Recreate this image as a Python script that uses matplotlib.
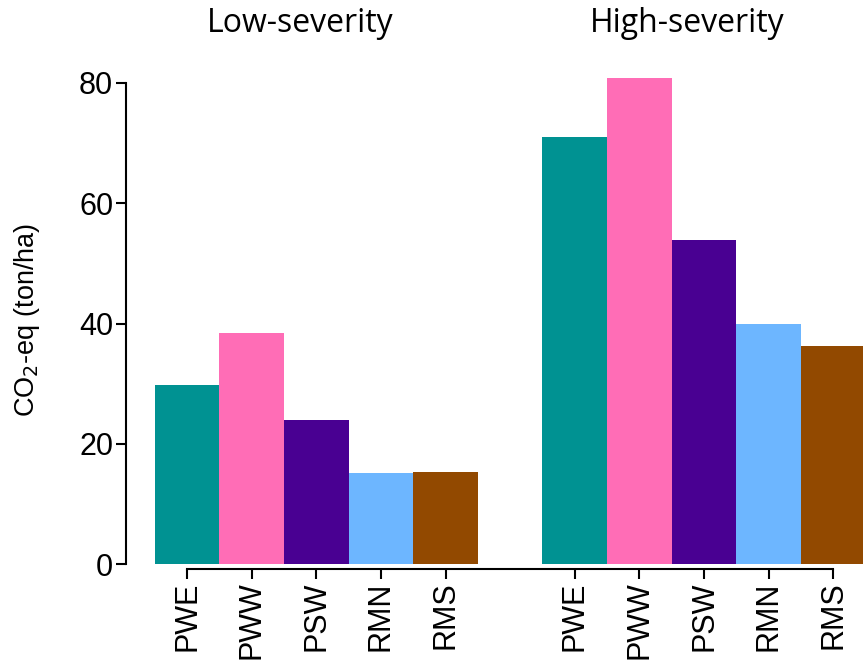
# Emissions by treatment, low vs high severity fires
import numpy as np
import matplotlib.pyplot as plt

# data
treatments = ['PWE', 'PWW', 'PSW', 'RMN', 'RMS']
low_severity = [29.8, 38.4, 24.0, 15.1, 15.4]
high_severity = [71.0, 80.8, 53.9, 40.0, 36.2]
colors = ['#009292', '#ff6db6', '#490092', '#6db6ff', '#924900']

fig = plt.figure(figsize=(8.63, 6.6), dpi=100)
ax = fig.add_axes([125.7 / 863, 1 - 564.3 / 660, 1 - 125.7 / 863, (564.3 - 70.9) / 660])

# low group at 0..4, high group at 6..10 (one empty slot between)
x_low = np.arange(len(treatments))
x_high = x_low + len(treatments) + 1
ax.bar(x_low, low_severity, width=1.0, color=colors, linewidth=0)
ax.bar(x_high, high_severity, width=1.0, color=colors, linewidth=0)

for s in ['top', 'right']:
    ax.spines[s].set_visible(False)
ax.spines['left'].set_bounds(0, 80)
ax.spines['bottom'].set_bounds(0, 10)
# note: set_position resets the ticks, so do it before styling them
ax.spines['bottom'].set_position(('outward', 3.2))
for s in ['left', 'bottom']:
    ax.spines[s].set_linewidth(1.5)

ax.set_xlim(-0.95, 10.46)
ax.set_ylim(0, 82)
ax.set_xticks(np.concatenate([x_low, x_high]))
ax.set_xticklabels(treatments * 2)
ax.set_yticks([0, 20, 40, 60, 80])
ax.set_yticklabels(['0', '20', '40', '60', '80'])
ax.tick_params(axis='both', length=7, width=1.5, pad=2, labelsize=22)
ax.tick_params(axis='x', labelrotation=90)
for lab in ax.get_xticklabels() + ax.get_yticklabels():
    lab.set_family('Liberation Sans')

fig.text(27 / 863, 1 - 320 / 660, 'CO$_2$-eq (ton/ha)', rotation=90,
         ha='center', va='center', fontsize=19.5, family='Liberation Sans')
fig.text(300 / 863, 1 - 23 / 660, 'Low-severity', ha='center', va='center',
         fontsize=23, family='Open Sans')
fig.text(687 / 863, 1 - 23 / 660, 'High-severity', ha='center', va='center',
         fontsize=23, family='Open Sans')

fig.savefig('out.png', dpi=100)
